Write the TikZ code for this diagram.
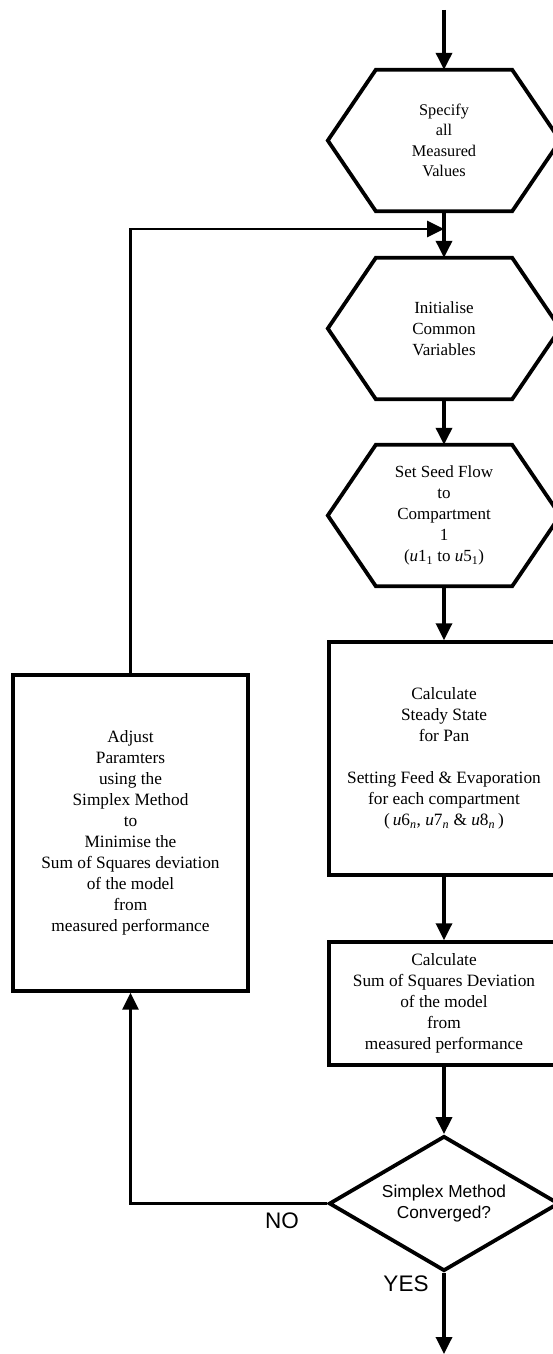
\documentclass[tikz,border=0pt]{standalone}
\usepackage{fontspec}
\setmainfont{Liberation Serif}
\setsansfont{Liberation Sans}
\usetikzlibrary{arrows.meta,shapes.geometric,calc}

\tikzset{
  x=1pt, y=-1pt,
  hexbox/.style={draw=none, minimum width=232pt, minimum height=141pt, inner sep=0pt,
    align=center, font=\fontsize{17}{21}\selectfont},
  hexline/.style={line width=3.8pt, line join=miter},
  procbox/.style={draw, line width=3.5pt, minimum width=230pt, inner sep=0pt,
    align=center, font=\fontsize{17.3}{21}\selectfont},
  sidebox/.style={draw, line width=3.2pt, minimum width=235pt, minimum height=316pt, inner sep=0pt,
    align=center, font=\fontsize{17.3}{21}\selectfont},
  decision/.style={draw, diamond, aspect=1.7, line width=3.8pt, minimum width=230pt, minimum height=135pt,
    inner sep=0pt, align=center, font=\sffamily\fontsize{17.3}{21}\selectfont},
  flow/.style={line width=3.4pt, -{Triangle[length=17pt,width=16pt]}},
  loopflow/.style={line width=2.8pt, -{Triangle[length=17pt,width=16pt]}},
  answer/.style={font=\sffamily\fontsize{22.5}{22.5}\selectfont, inner sep=0pt},
}

% chamfered hexagon drawn over a plain named node
\newcommand{\hexoutline}[1]{%
  \draw[hexline] (#1.west) -- ($(#1.north west)+(48,0)$) -- ($(#1.north east)+(-48,0)$)
    -- (#1.east) -- ($(#1.south east)+(-48,0)$) -- ($(#1.south west)+(48,0)$) -- cycle;}

\begin{document}
\begin{tikzpicture}
\useasboundingbox (0,0) rectangle (552,1354);

% process column
\node[hexbox, font=\fontsize{16.3}{20.5}\selectfont] (spec) at (444,140.5) {Specify\\all\\Measured\\Values};
\hexoutline{spec}
\node[hexbox] (init) at (444,328.5) {Initialise\\Common\\Variables};
\hexoutline{init}
\node[hexbox] (seed) at (444,515.5) {Set Seed Flow\\to\\Compartment\\1\\(\textit{u}1\textsubscript{1} to \textit{u}5\textsubscript{1})};
\hexoutline{seed}

\node[procbox, minimum height=233pt] (steady) at (444,758.5)
  {Calculate\\Steady State\\for Pan\\[21pt]Setting Feed \& Evaporation\\for each compartment\\(\,\textit{u}6\textsubscript{\textit{n}}, \textit{u}7\textsubscript{\textit{n}} \& \textit{u}8\textsubscript{\textit{n}}\,)};
\node[procbox, minimum height=123pt] (dev) at (444,1003.5)
  {Calculate\\Sum of Squares Deviation\\of the model\\from\\measured performance};
\node[decision] (conv) at (444,1203.5) {Simplex Method\\Converged?};

% parameter adjustment
\node[sidebox] (adjust) at (130.5,833)
  {Adjust\\Paramters\\using the\\Simplex Method\\to\\Minimise the\\Sum of Squares deviation\\of the model\\from\\measured performance};

% connectors
\coordinate (start) at (444,10);
\coordinate (join) at (444,229);
\coordinate (finish) at (444,1354);
\coordinate (noturn) at (130.5,1203.5);
\coordinate (upturn) at (130.5,229);

\draw[flow] (start) -- (spec.north);
\draw[line width=3.4pt] (spec.south) -- (join);
\draw[flow] (join) -- (init.north);
\draw[flow] (init.south) -- (seed.north);
\draw[flow] (seed.south) -- (steady.north);
\draw[flow] (steady.south) -- (dev.north);
\draw[flow] (dev.south) -- (conv.north);
\draw[flow] (conv.south) -- (finish);
\draw[loopflow] (conv.west) -- (noturn) -- (adjust.south);
\draw[loopflow] (adjust.north) -- (upturn) -- (join);

\node[answer] (no) at (282,1221) {NO};
\node[answer] (yes) at (406,1284) {YES};
\end{tikzpicture}
\end{document}
